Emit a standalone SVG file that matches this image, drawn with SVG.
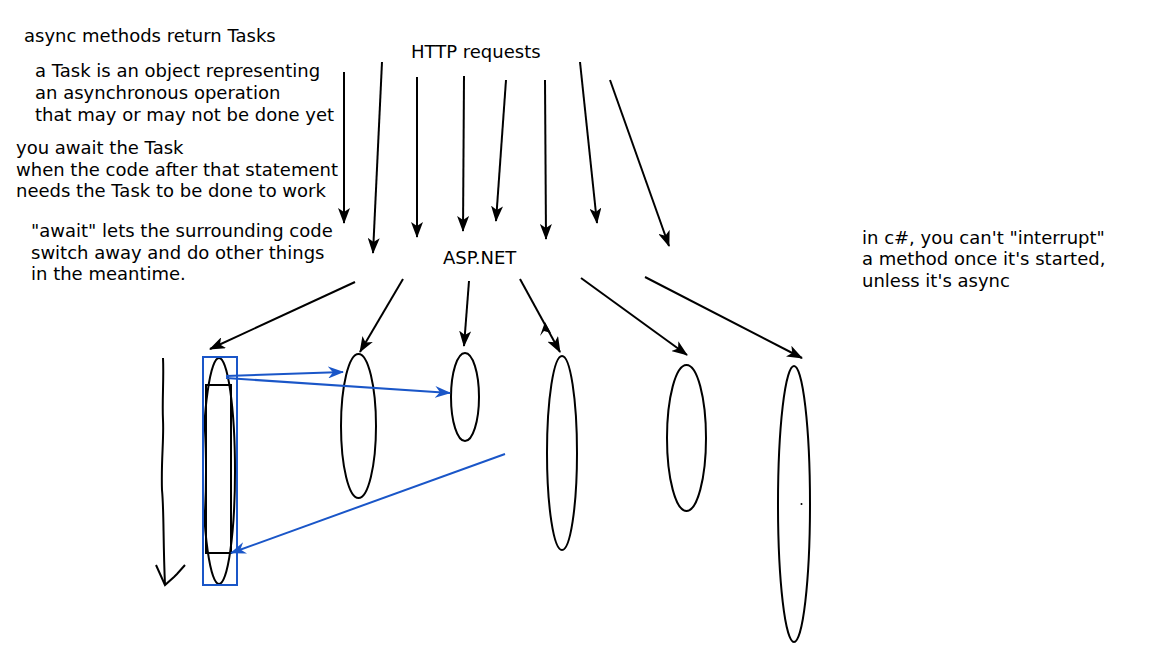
<svg xmlns="http://www.w3.org/2000/svg" width="1168" height="657" viewBox="0 0 1168 657">
<style>
text{font-family:"DejaVu Sans",Verdana,sans-serif;font-size:18px;fill:#000}
.c{fill:none;stroke:#000;stroke-width:2}
.b{fill:none;stroke:#1a56c8;stroke-width:2}
.n{fill:none;stroke:#000;stroke-width:2}
</style>
<defs>
<marker id="ah" markerUnits="userSpaceOnUse" markerWidth="16" markerHeight="12" viewBox="0 0 16 12" refX="15" refY="6" orient="auto">
<path d="M0,0 L16,6 L0,12 L4,6 z" fill="#000"/>
</marker>
<marker id="bh" markerUnits="userSpaceOnUse" markerWidth="16" markerHeight="12" viewBox="0 0 16 12" refX="15" refY="6" orient="auto">
<path d="M0,0 L16,6 L0,12 L5,6 z" fill="#1a56c8"/>
</marker>
</defs>
<rect width="1168" height="657" fill="#fff"/>
<g id="notes">
<text x="24" y="42">async methods return Tasks</text>
<text x="35" y="77">a Task is an object representing</text>
<text x="35" y="99">an asynchronous operation</text>
<text x="35" y="121">that may or may not be done yet</text>
<text x="16" y="154">you await the Task</text>
<text x="16" y="176">when the code after that statement</text>
<text x="16" y="197">needs the Task to be done to work</text>
<text x="31" y="237">"await" lets the surrounding code</text>
<text x="31" y="259">switch away and do other things</text>
<text x="31" y="280">in the meantime.</text>
<text x="862" y="244">in c#, you can't "interrupt"</text>
<text x="862" y="265">a method once it's started,</text>
<text x="862" y="287">unless it's async</text>
</g>
<g id="http"><text x="411" y="58">HTTP requests</text></g>
<g id="aspnet"><text x="443" y="264">ASP.NET</text></g>
<g id="method1">
<ellipse class="n" cx="219" cy="471" rx="16" ry="113"/>
<rect class="n" x="206" y="385" width="25" height="168"/>
<rect class="b" x="203" y="357" width="34" height="228"/>
</g>
<g id="method2"><ellipse class="n" cx="358.5" cy="426" rx="17.5" ry="72"/></g>
<g id="method3"><ellipse class="n" cx="465" cy="397" rx="14" ry="44"/></g>
<g id="method4"><ellipse class="n" cx="562" cy="453" rx="15" ry="97"/></g>
<g id="method5"><ellipse class="n" cx="686.5" cy="438" rx="19.5" ry="73"/></g>
<g id="method6"><ellipse class="n" cx="794" cy="504" rx="16" ry="138"/><circle cx="801.5" cy="504" r="1" fill="#000"/></g>
<g id="connectors">
<line class="c" x1="344" y1="72" x2="344" y2="223" marker-end="url(#ah)"/>
<line class="c" x1="382" y1="62" x2="373" y2="253" marker-end="url(#ah)"/>
<line class="c" x1="417" y1="77" x2="417" y2="237" marker-end="url(#ah)"/>
<line class="c" x1="464" y1="76" x2="463" y2="231" marker-end="url(#ah)"/>
<line class="c" x1="506" y1="80" x2="496" y2="221" marker-end="url(#ah)"/>
<line class="c" x1="545" y1="80" x2="546" y2="239" marker-end="url(#ah)"/>
<line class="c" x1="580" y1="62" x2="597" y2="223" marker-end="url(#ah)"/>
<line class="c" x1="610" y1="80" x2="669" y2="246" marker-end="url(#ah)"/>
<line class="c" x1="355" y1="282" x2="210" y2="349" marker-end="url(#ah)"/>
<line class="c" x1="403" y1="279" x2="360" y2="352" marker-end="url(#ah)"/>
<line class="c" x1="469" y1="281" x2="464" y2="346" marker-end="url(#ah)"/>
<line class="c" x1="520" y1="279" x2="560" y2="352" marker-end="url(#ah)"/>
<path d="M545,322 L540,336 L544,331 L551,333 z" fill="#000"/>
<line class="c" x1="581" y1="278" x2="687" y2="355" marker-end="url(#ah)"/>
<line class="c" x1="645" y1="277" x2="802" y2="358" marker-end="url(#ah)"/>
<line class="b" x1="226" y1="376" x2="343" y2="372" marker-end="url(#bh)"/>
<line class="b" x1="226" y1="378" x2="450" y2="393" marker-end="url(#bh)"/>
<line class="b" x1="505" y1="454" x2="231" y2="553" marker-end="url(#bh)"/>
<path class="c" d="M163,358 C164,380 162,400 163,420 C164,440 161,460 162,490 C164,510 163,540 165,585"/>
<path class="c" d="M156,565 L165,585 L174,577 L177,574 L185,565"/>
</g>
</svg>
